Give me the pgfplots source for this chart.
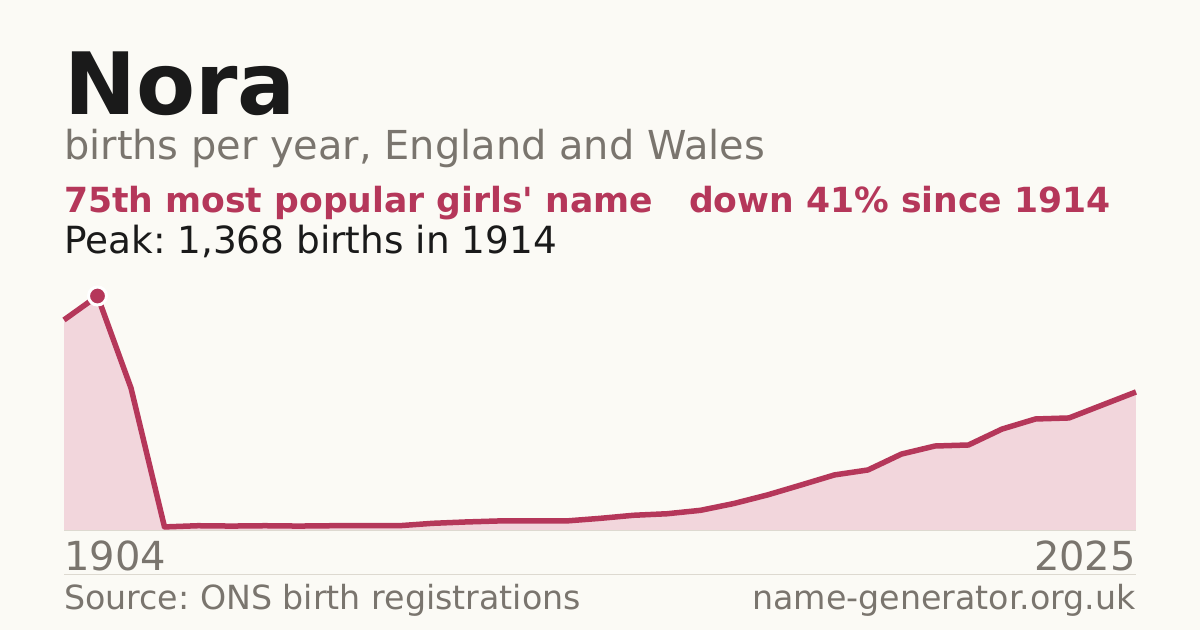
\documentclass[border=0pt]{standalone}
\usepackage{pgfplots}
\usepackage{pgfplotstable}
\pgfplotsset{compat=1.18}
\usepackage{fontspec}
\setmainfont{DejaVu Sans}[Ligatures=TeXOff]
\definecolor{bg}{HTML}{FBFAF5}
\definecolor{redl}{HTML}{B5375A}
\definecolor{pinkf}{HTML}{F2D6DC}
\definecolor{ink}{HTML}{1A1A1A}
\definecolor{grayt}{HTML}{7A756E}
\definecolor{rule}{HTML}{DDD9D0}
\pgfplotstableread{
idx births
0 1228
1 1368
2 830
3 18
4 25
5 23
6 25
7 23
8 25
9 25
10 25
11 39
12 47
13 53
14 53
15 53
16 68
17 86
18 95
19 115
20 155
21 205
22 263
23 322
24 351
25 444
26 491
27 497
28 590
29 649
30 655
31 731
32 807
}\births
\begin{document}
\frenchspacing
\begin{tikzpicture}[x=1pt,y=1pt]
\fill[bg] (0,0) rectangle (1200,630);
\node[anchor=base west,inner sep=0,text=ink] at (64,515) {\fontsize{86}{100}\selectfont\bfseries Nora};
\node[anchor=base west,inner sep=0,text=grayt] at (64,470) {\fontsize{39.9}{45}\selectfont births per year, England and Wales};
\node[anchor=base west,inner sep=0,text=redl] at (64,417) {\fontsize{34.6}{40}\selectfont\bfseries 75th most popular girls' name};
\node[anchor=base west,inner sep=0,text=redl] at (689,417) {\fontsize{34.6}{40}\selectfont\bfseries down 41\% since 1914};
\node[anchor=base west,inner sep=0,text=ink] at (64,376) {\fontsize{37.4}{42}\selectfont Peak: 1,368 births in 1914};
\begin{axis}[
  at={(64pt,100pt)}, anchor=south west,
  scale only axis, width=1072pt, height=234pt,
  xmin=0, xmax=32, ymin=0, ymax=1368,
  axis lines=none, ticks=none, clip=false,
]
\addplot[fill=pinkf, draw=none] table[x=idx,y=births] {\births} \closedcycle;
\addplot[draw=rule, line width=1pt] coordinates {(0,0) (32,0)};
\addplot[draw=redl, line width=5.5pt, line join=round] table[x=idx,y=births] {\births};
\addplot[only marks, mark=*, mark size=9pt, mark options={fill=redl, draw=white, line width=3pt}] coordinates {(1,1368)};
\end{axis}
\node[anchor=base west,inner sep=0,text=grayt] at (64,60) {\fontsize{40}{46}\selectfont 1904};
\node[anchor=base east,inner sep=0,text=grayt] at (1136,60) {\fontsize{40}{46}\selectfont 2025};
\draw[rule, line width=1pt] (64,56) -- (1136,56);
\node[anchor=base west,inner sep=0,text=grayt] at (64,21) {\fontsize{33.25}{38}\selectfont Source: ONS birth registrations};
\node[anchor=base east,inner sep=0,text=grayt] at (1136,21) {\fontsize{33.25}{38}\selectfont name-generator.org.uk};
\end{tikzpicture}
\end{document}
